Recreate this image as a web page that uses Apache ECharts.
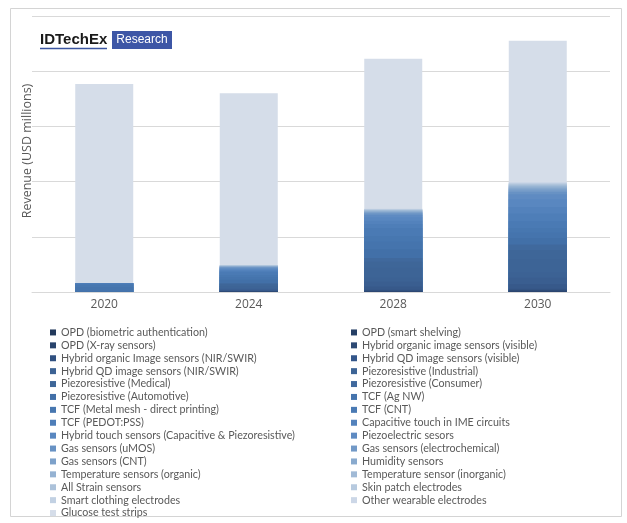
<!DOCTYPE html>
<html lang="en">
<head>
    <meta charset="UTF-8">
    <title>Revenue by application</title>
    <style>
        html, body { margin: 0; padding: 0; background: #ffffff; }
        #chart { width: 627px; height: 523px; }
    </style>
</head>
<body>
    <div id="chart"></div>

    <script src="https://cdn.jsdelivr.net/npm/echarts@6/dist/echarts.min.js"></script>
    <script>
        // categories
        var years = ['2020', '2024', '2028', '2030'];

        // series names, in legend order (read row by row, left then right)
        var seriesNames = [
            'OPD (biometric authentication)', 'OPD (smart shelving)',
            'OPD (X-ray sensors)', 'Hybrid organic image sensors (visible)',
            'Hybrid organic Image sensors (NIR/SWIR)', 'Hybrid QD image sensors (visible)',
            'Hybrid QD image sensors (NIR/SWIR)', 'Piezoresistive (Industrial)',
            'Piezoresistive (Medical)', 'Piezoresistive (Consumer)',
            'Piezoresistive (Automotive)', 'TCF (Ag NW)',
            'TCF (Metal mesh - direct printing)', 'TCF (CNT)',
            'TCF (PEDOT:PSS)', 'Capacitive touch in IME circuits',
            'Hybrid touch sensors (Capacitive & Piezoresistive)', 'Piezoelectric sesors',
            'Gas sensors (uMOS)', 'Gas sensors (electrochemical)',
            'Gas sensors (CNT)', 'Humidity sensors',
            'Temperature sensors (organic)', 'Temperature sensor (inorganic)',
            'All Strain sensors', 'Skin patch electrodes',
            'Smart clothing electrodes', 'Other wearable electrodes',
            'Glucose test strips'
        ];

        // revenue per series for each year (estimated, USD millions)
        var values2020 = [0, 0, 0, 0, 0, 0, 0, 0, 0, 0, 5, 40, 20, 10, 5, 0, 0, 0,
            0, 0, 0, 0, 0, 0, 0, 0, 0, 0, 1805];
        var values2024 = [2, 2, 2, 2, 8, 10, 8, 20, 16, 10, 30, 25, 20, 25, 10, 9, 10, 7,
            5, 4, 4, 3, 3, 2, 2, 2, 1, 1, 1558];
        var values2028 = [5, 5, 5, 5, 30, 45, 35, 90, 55, 33, 80, 70, 50, 72, 35, 30, 33, 20,
            10, 8, 8, 6, 5, 5, 4, 4, 3, 2, 1360];
        var values2030 = [10, 5, 5, 10, 40, 60, 50, 120, 80, 50, 60, 50, 40, 60, 70, 60, 70, 45,
            20, 15, 15, 12, 10, 10, 8, 8, 6, 6, 1280];

        var colors = [
            '#2b4570', '#2e4a76', '#31507e', '#345584', '#37598a', '#3a5e90',
            '#3c6294', '#3d6496', '#3e6698', '#40699d', '#4270a8', '#4574ad',
            '#4777b0', '#4a7ab4', '#4e7eb8', '#5382bc', '#5987c0', '#5f8bc2',
            '#6892c4', '#7299c7', '#7da1ca', '#89aace', '#95b2d2', '#a1bad6',
            '#acc2da', '#b7cadf', '#c2d1e3', '#ccd7e7', '#d5dde9'
        ];
        // legend swatches are a bit darker at the top of the list than in the bars
        var legendColors = [
            '#233a5c', '#263f65', '#29446c', '#2d4a74', '#305080', '#33568a'
        ];

        var byYear = [values2020, values2024, values2028, values2030];

        // stacked by hand: each series is drawn from zero up to its running total,
        // deeper series drawn first, so no anti-aliasing seams show between segments
        function runningTotal(v, i) {
            var s = 0;
            for (var k = 0; k <= i; k++) s += v[k];
            return s;
        }
        var series = [];
        for (var i = seriesNames.length - 1; i >= 0; i--) {
            series.push({
                name: seriesNames[i],
                type: 'bar',
                barWidth: 58,
                barGap: '-100%',
                itemStyle: { color: colors[i] },
                data: byYear.map(function (v) { return runningTotal(v, i); })
            });
        }

        function legendData(parity) {
            return seriesNames
                .map(function (n, i) {
                    return {
                        name: n,
                        itemStyle: { color: legendColors[i] || colors[i], borderWidth: 0 }
                    };
                })
                .filter(function (d, i) { return i % 2 === parity; });
        }

        var legendText = {
            color: '#595959',
            fontSize: 10.7,
            lineHeight: 12.9,
            fontFamily: "Lato, 'Liberation Sans', sans-serif"
        };

        var chart = echarts.init(document.getElementById('chart'));
        var option = {
            animation: false,
            backgroundColor: '#ffffff',
            grid: { left: 32, right: 17, top: 16, height: 276 },
            xAxis: {
                type: 'category',
                data: years,
                axisLine: { lineStyle: { color: '#d9d9d9' } },
                axisTick: { show: false },
                axisLabel: {
                    color: '#595959',
                    fontSize: 12,
                    margin: 7,
                    fontFamily: "'Open Sans', sans-serif"
                }
            },
            yAxis: {
                type: 'value',
                min: 0,
                max: 2500,
                interval: 500,
                axisLabel: { show: false },
                axisLine: { show: false },
                axisTick: { show: false },
                splitLine: { lineStyle: { color: '#d9d9d9' } }
            },
            legend: [
                {
                    orient: 'vertical',
                    left: 50,
                    top: 326,
                    itemWidth: 6,
                    itemHeight: 6,
                    itemGap: 0,
                    icon: 'rect',
                    padding: 0,
                    textStyle: legendText,
                    data: legendData(0)
                },
                {
                    orient: 'vertical',
                    left: 351,
                    top: 326,
                    itemWidth: 6,
                    itemHeight: 6,
                    itemGap: 0,
                    icon: 'rect',
                    padding: 0,
                    textStyle: legendText,
                    data: legendData(1)
                }
            ],
            graphic: [
                {
                    type: 'rect',
                    shape: { x: 10.5, y: 8.5, width: 611, height: 508 },
                    style: { fill: 'none', stroke: '#d4d4d4', lineWidth: 1 },
                    silent: true
                },
                {
                    type: 'text',
                    x: 27,
                    y: 151,
                    rotation: Math.PI / 2,
                    style: {
                        text: 'Revenue (USD millions)',
                        fill: '#595959',
                        font: "12.5px 'Open Sans', sans-serif",
                        align: 'center',
                        verticalAlign: 'middle'
                    }
                },
                {
                    type: 'text',
                    x: 40,
                    y: 40,
                    style: {
                        text: 'IDTechEx',
                        fill: '#1a1a1a',
                        font: "bold 15px 'Liberation Sans', sans-serif",
                        verticalAlign: 'middle'
                    }
                },
                {
                    type: 'line',
                    shape: { x1: 40, y1: 48.5, x2: 107, y2: 48.5 },
                    style: { stroke: '#3b55a0', lineWidth: 1.5 }
                },
                {
                    type: 'rect',
                    shape: { x: 112, y: 31, width: 60, height: 18 },
                    style: { fill: '#3d56a6' }
                },
                {
                    type: 'text',
                    x: 142,
                    y: 40,
                    style: {
                        text: 'Research',
                        fill: '#ffffff',
                        font: "12px 'Liberation Sans', sans-serif",
                        align: 'center',
                        verticalAlign: 'middle'
                    }
                }
            ],
            series: series
        };
        chart.setOption(option);
    </script>
</body>
</html>
